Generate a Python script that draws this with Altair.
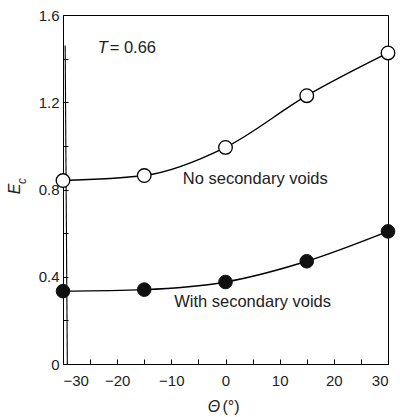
import altair as alt
import pandas as pd

# Data
theta_deg = [-30, -15, 0, 15, 30]
ec_no_voids = [0.841, 0.864, 0.993, 1.23, 1.426]
ec_with_voids = [0.334, 0.341, 0.376, 0.471, 0.608]

# near-vertical curve at the left edge
edge_x = [-29.6, -29.2]
edge_y = [1.46, 0.0]

x_ticks = list(range(-30, 31, 5))
y_ticks = [0, 0.2, 0.4, 0.6, 0.8, 1.0, 1.2, 1.4, 1.6]

df_open = pd.DataFrame({"x": theta_deg, "y": ec_no_voids})
df_fill = pd.DataFrame({"x": theta_deg, "y": ec_with_voids})
df_edge = pd.DataFrame({"x": edge_x, "y": edge_y})

FONT = "Liberation Sans"

xscale = alt.Scale(domain=[-30, 30], nice=False, zero=False)
yscale = alt.Scale(domain=[0, 1.6], nice=False)

xax = alt.Axis(values=x_ticks, labelExpr="datum.value % 10 == 0 ? datum.label : ''",
               title=None, tickSize={"expr": "-5"}, tickColor="black", domainColor="black",
               labelColor="#222", labelFontSize=15, labelFont=FONT, labelPadding=14, grid=False)
yax = alt.Axis(values=y_ticks, labelExpr="round(datum.value*10) % 4 == 0 ? datum.label : ''",
               format="~g", title=None, tickSize={"expr": "-5"}, tickColor="black",
               domainColor="black", labelColor="#222", labelFontSize=15, labelFont=FONT,
               labelPadding=9, grid=False)

X = alt.X("x:Q", scale=xscale, axis=xax)
Y = alt.Y("y:Q", scale=yscale, axis=yax)

edge = alt.Chart(df_edge).mark_line(color="black", strokeWidth=1.1).encode(x=X, y=Y)

line_open = alt.Chart(df_open).mark_line(color="black", strokeWidth=1.4, interpolate="monotone").encode(x=X, y=Y)
pts_open = alt.Chart(df_open).mark_point(shape="circle", size=185, filled=True, fill="white",
                                         stroke="black", strokeWidth=1.3, opacity=1).encode(x=X, y=Y)
line_fill = alt.Chart(df_fill).mark_line(color="black", strokeWidth=1.4, interpolate="monotone").encode(x=X, y=Y)
pts_fill = alt.Chart(df_fill).mark_point(shape="circle", size=185, filled=True, fill="#111",
                                         stroke="#111", strokeWidth=1, opacity=1).encode(x=X, y=Y)

ann = pd.DataFrame({"x": [5.5, 5.0], "y": [0.85, 0.285],
                    "t": ["No secondary voids", "With secondary voids"]})
ann_text = alt.Chart(ann).mark_text(font=FONT, fontSize=16.5, color="#222", align="center",
                                    baseline="middle").encode(x=X, y=Y, text="t:N")

tdf = pd.DataFrame({"x": [-23.6], "y": [1.45]})
t_italic = alt.Chart(tdf).mark_text(font=FONT, fontSize=16.5, fontStyle="italic", color="#222",
                                    align="left", baseline="middle", text="T").encode(x=X, y=Y)
t_rest = alt.Chart(tdf).mark_text(font=FONT, fontSize=16.5, color="#222", align="left",
                                  baseline="middle", dx=12, text="= 0.66").encode(x=X, y=Y)

# axis titles
ytitle_E = alt.Chart(tdf).mark_text(font=FONT, fontSize=16, fontStyle="italic", color="#222",
                                    angle=270, align="center", baseline="middle", text="E").encode(
    x=alt.value(-48.5), y=alt.value(174))
ytitle_c = alt.Chart(tdf).mark_text(font=FONT, fontSize=12, fontStyle="italic", color="#222",
                                    angle=270, align="center", baseline="middle", text="c").encode(
    x=alt.value(-41), y=alt.value(166))
xtitle_th = alt.Chart(tdf).mark_text(font=FONT, fontSize=16, fontStyle="italic", color="#222",
                                     align="center", baseline="middle", text="Θ").encode(
    x=alt.value(151), y=alt.value(392))
xtitle_deg = alt.Chart(tdf).mark_text(font=FONT, fontSize=16, color="#222",
                                      align="center", baseline="middle", text="(°)").encode(
    x=alt.value(168), y=alt.value(392))

chart = alt.layer(edge, line_open, line_fill, pts_open, pts_fill, ann_text, t_italic, t_rest,
                  ytitle_E, ytitle_c, xtitle_th, xtitle_deg).properties(
    width=325, height=349, autosize="none",
    padding={"left": 63, "top": 15, "right": 12, "bottom": 53},
    background="white",
).configure_view(stroke="black", strokeWidth=1)

chart.save("out.html", embed_options={"renderer": "svg", "actions": False})
